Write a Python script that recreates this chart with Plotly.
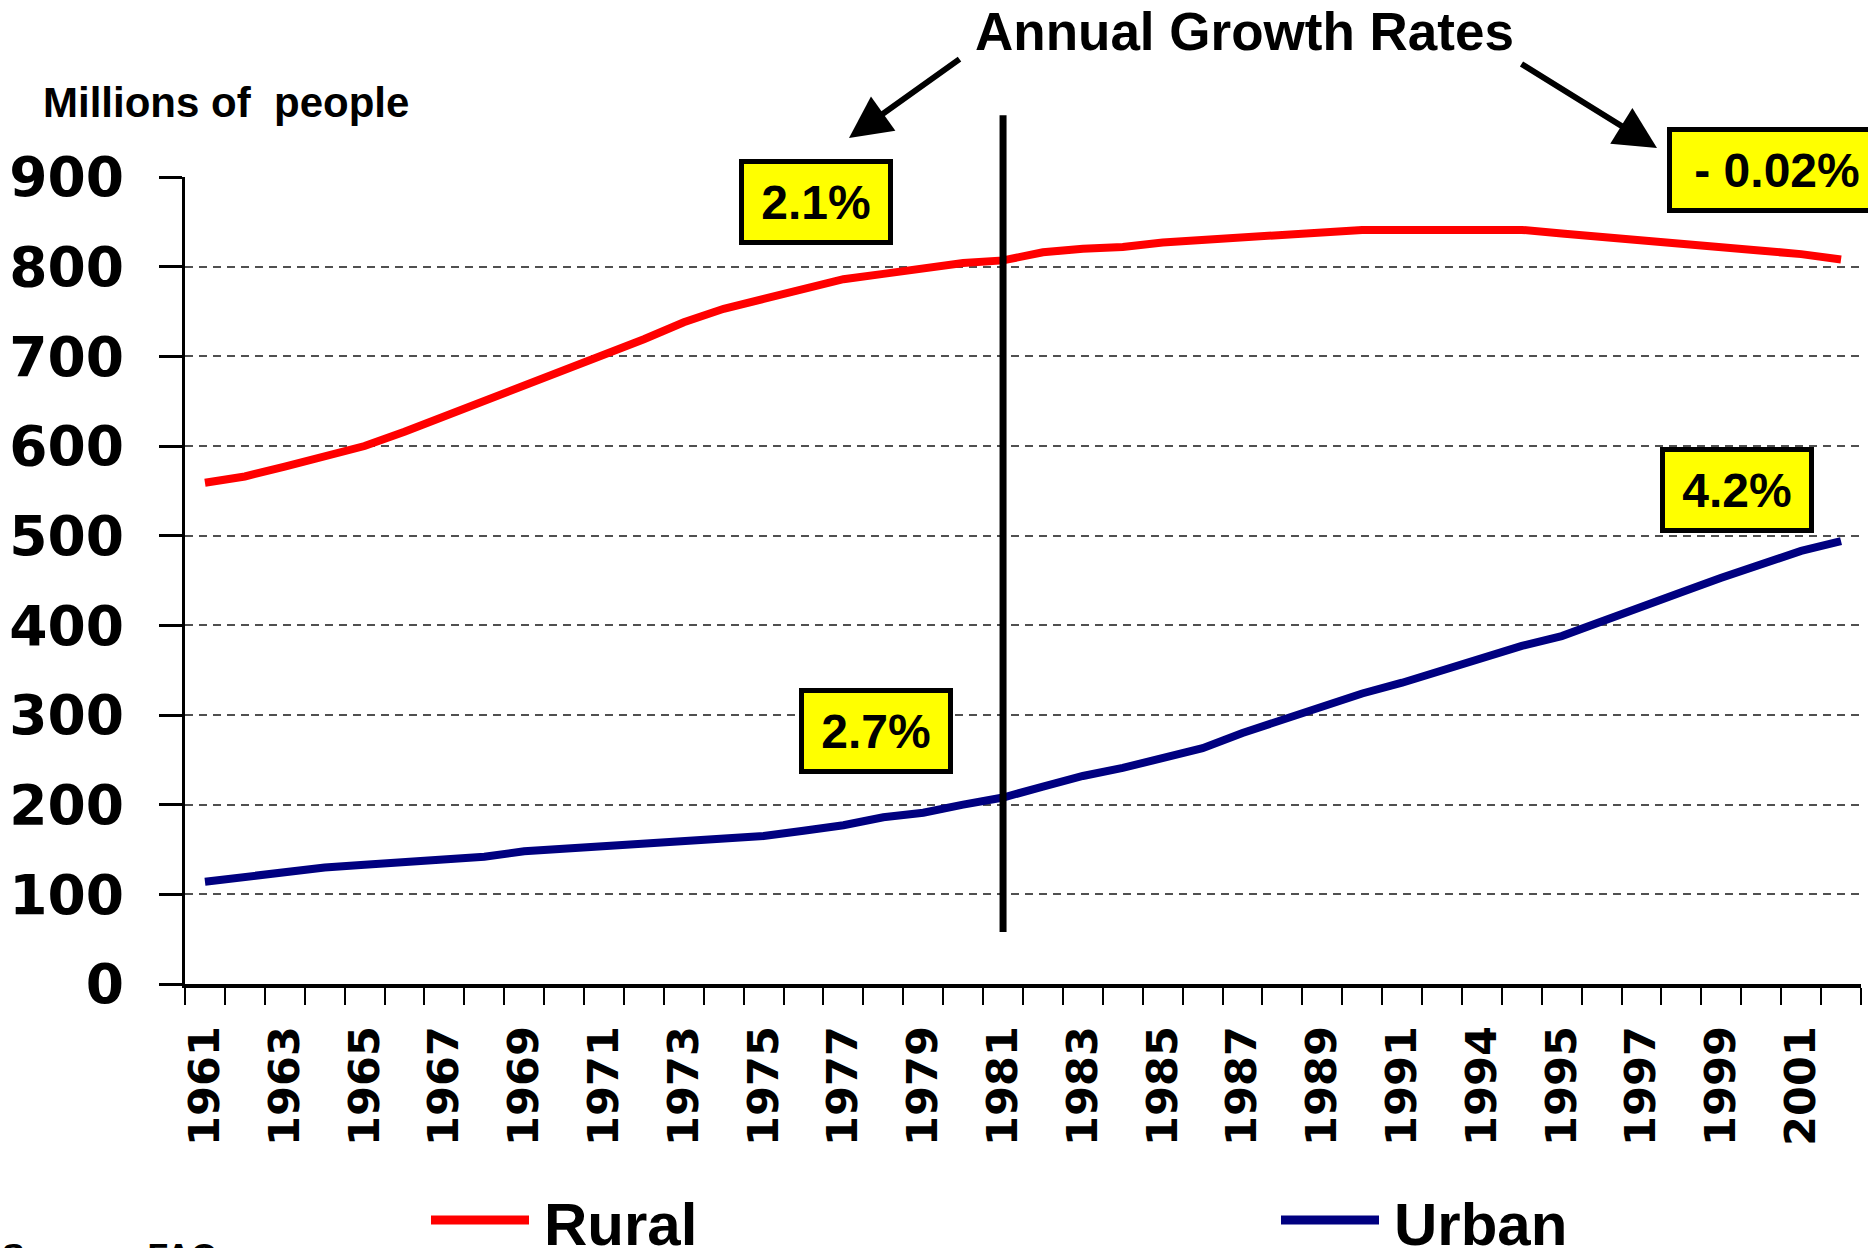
import plotly.graph_objects as go

# ---------------- data ----------------
years = list(range(1961, 2003))
rural = [559, 566, 577, 588, 600, 616, 633, 652, 668, 685, 703, 719, 738, 753, 764,
         776, 786, 792, 798, 804, 807, 816, 820, 822, 827, 830, 833, 836, 838, 841,
         841, 841, 841, 841, 837, 833, 830, 827, 822, 819, 814, 808]
urban = [114, 120, 124, 130, 133, 136, 139, 142, 148, 151, 154, 157, 160, 162, 165,
         171, 177, 186, 191, 200, 208, 220, 232, 241, 252, 263, 280, 295, 310, 324,
         336, 350, 362, 377, 388, 405, 421, 437, 453, 468, 483, 494]
tick_years = [1961, 1963, 1965, 1967, 1969, 1971, 1973, 1975, 1977, 1979, 1981,
              1983, 1985, 1987, 1989, 1991, 1993, 1995, 1997, 1999, 2001]
tick_labels = ["1961", "1963", "1965", "1967", "1969", "1971", "1973", "1975", "1977",
               "1979", "1981", "1983", "1985", "1987", "1989", "1991", "1994", "1995",
               "1997", "1999", "2001"]
y_ticks = [0, 100, 200, 300, 400, 500, 600, 700, 800, 900]
series_names = ["Rural", "Urban"]
rates = ["2.1%", "2.7%", "- 0.02%", "4.2%"]
divider_year = 1981

# ---------------- layout geometry ----------------
W, H = 1868, 1248
L, R, T, B = 185, 7, 177, 264
PW, PH = W - L - R, H - T - B
Y_MAX = 900


def pxx(px):
    return (px - L) / PW


def pxy(py):
    return (H - B - py) / PH


RED = "#FF0000"
NAVY = "#000080"
TXT = "Liberation Sans, Arial, sans-serif"
TICKF = "DejaVu Sans, Arial Black, sans-serif"

fig = go.Figure()
fig.add_trace(go.Scatter(x=years, y=rural, mode="lines", name=series_names[0],
                         line=dict(color=RED, width=8), showlegend=False))
fig.add_trace(go.Scatter(x=years, y=urban, mode="lines", name=series_names[1],
                         line=dict(color=NAVY, width=8), showlegend=False))

fig.update_layout(
    width=W, height=H,
    margin=dict(l=L, r=R, t=T, b=B, autoexpand=False),
    paper_bgcolor="white", plot_bgcolor="white",
    showlegend=False,
)

fig.update_xaxes(
    range=[years[0] - 0.5, years[-1] + 0.5],
    tickmode="array", tickvals=tick_years, ticktext=tick_labels,
    tickangle=-90,
    tickfont=dict(family=TICKF, size=43, color="black", weight="bold"),
    ticks="outside", ticklen=17, tickcolor="rgba(0,0,0,0)",
    ticklabelstandoff=4,
    showline=True, linecolor="black", linewidth=4,
    showgrid=False, zeroline=False,
    minor=dict(ticks="outside", ticklen=17, tickwidth=2, tickcolor="black",
               tick0=years[0] - 0.5, dtick=1, showgrid=False),
)
fig.update_yaxes(
    range=[0, Y_MAX],
    tickmode="array", tickvals=y_ticks,
    tickfont=dict(family=TICKF, size=55, color="black", weight="bold"),
    ticks="outside", ticklen=23, tickwidth=3, tickcolor="black",
    ticklabelstandoff=24,
    showline=True, linecolor="black", linewidth=3,
    showgrid=True, gridcolor="#505050", gridwidth=1.5, griddash="8px,6px",
    zeroline=False,
)

# vertical divider at 1981
fig.add_shape(type="line", xref="x", yref="paper",
              x0=divider_year, x1=divider_year, y0=58 / Y_MAX, y1=969 / Y_MAX,
              line=dict(color="black", width=7))

# title / axis text
fig.add_annotation(text="<b>Annual Growth Rates</b>", xref="paper", yref="paper",
                   x=pxx(1244), y=pxy(31), xanchor="center", yanchor="middle",
                   showarrow=False, font=dict(family=TXT, size=53, color="black"))
fig.add_annotation(text="<b>Millions of  people</b>", xref="paper", yref="paper",
                   x=pxx(41), y=pxy(102), xanchor="left", yanchor="middle",
                   showarrow=False, font=dict(family=TXT, size=42, color="black"))

# arrows
fig.add_annotation(text="", xref="paper", yref="paper", x=pxx(849), y=pxy(138),
                   ax=961 - 849, ay=58 - 138, showarrow=True, arrowhead=2,
                   arrowsize=1.4, arrowwidth=6, arrowcolor="black")
fig.add_annotation(text="", xref="paper", yref="paper", x=pxx(1657), y=pxy(148),
                   ax=1520 - 1657, ay=63 - 148, showarrow=True, arrowhead=2,
                   arrowsize=1.4, arrowwidth=6, arrowcolor="black")

# growth rate boxes (anchor px, width, xanchor)
boxes = [(rates[0], 816, 202, 144, "center"), (rates[1], 876, 731, 144, "center"),
         (rates[2], 1667, 170, 210, "left"), (rates[3], 1737, 490, 144, "center")]
for txt, cx, cy, bw, xa in boxes:
    fig.add_annotation(text="<b>%s</b>" % txt, xref="paper", yref="paper",
                       x=pxx(cx), y=pxy(cy), xanchor=xa, yanchor="middle",
                       showarrow=False, width=bw, height=76,
                       bgcolor="#FFFF00", bordercolor="black", borderwidth=5,
                       borderpad=0, font=dict(family=TXT, size=48, color="black"))

# manual legend
legend_items = [(series_names[0], RED, 431, 529, 542), (series_names[1], NAVY, 1281, 1379, 1392)]
for name, col, lx0, lx1, tx in legend_items:
    fig.add_shape(type="line", xref="paper", yref="paper",
                  x0=pxx(lx0), x1=pxx(lx1), y0=pxy(1220), y1=pxy(1220),
                  line=dict(color=col, width=9))
    fig.add_annotation(text="<b>%s</b>" % name, xref="paper", yref="paper",
                       x=pxx(tx), y=pxy(1224), xanchor="left", yanchor="middle",
                       showarrow=False, font=dict(family=TXT, size=60, color="black"))

# source note (cut off at bottom edge)
fig.add_annotation(text="<b>Source:  FAO</b>", xref="paper", yref="paper",
                   x=pxx(0), y=pxy(1255), xanchor="left", yanchor="middle",
                   showarrow=False, font=dict(family=TXT, size=34, color="black"))

fig.write_html("out.html", config={"displayModeBar": False},
               post_script="document.body.style.margin='0';document.body.style.overflow='hidden';")
